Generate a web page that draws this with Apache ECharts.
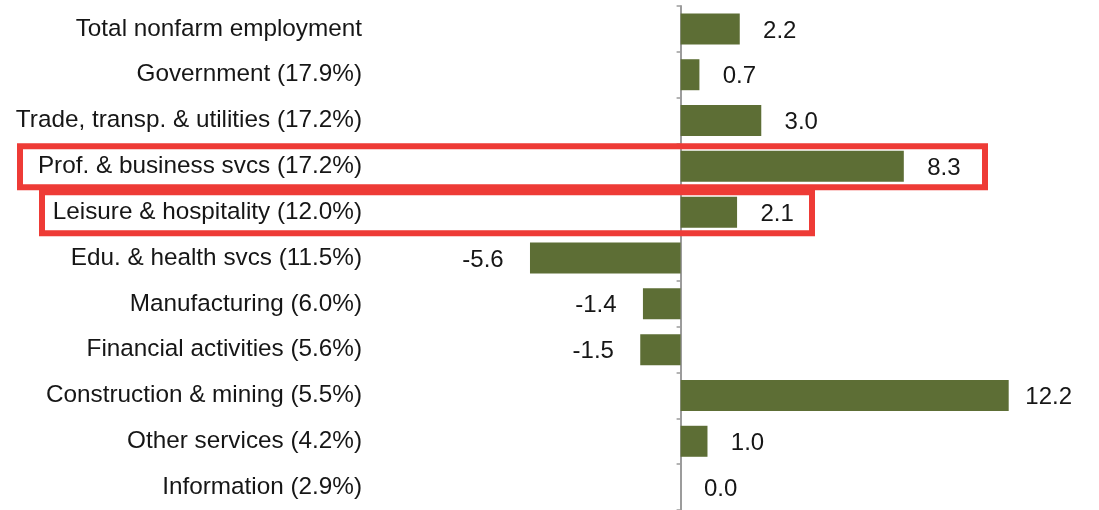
<!DOCTYPE html>
<html>
<head>
<meta charset="utf-8">
<script src="https://cdn.jsdelivr.net/npm/echarts@6/dist/echarts.min.js"></script>
<style>
  html, body { margin: 0; padding: 0; background: #fff; }
  #chart { width: 1099px; height: 510px; }
</style>
</head>
<body>
<div id="chart"></div>
<script>
const categories = [
  'Total nonfarm employment',
  'Government (17.9%)',
  'Trade, transp. & utilities (17.2%)',
  'Prof. & business svcs (17.2%)',
  'Leisure & hospitality (12.0%)',
  'Edu. & health svcs (11.5%)',
  'Manufacturing (6.0%)',
  'Financial activities (5.6%)',
  'Construction & mining (5.5%)',
  'Other services (4.2%)',
  'Information (2.9%)'
];
const values = [2.2, 0.7, 3.0, 8.3, 2.1, -5.6, -1.4, -1.5, 12.2, 1.0, 0.0];
const highlighted = ['Prof. & business svcs (17.2%)', 'Leisure & hospitality (12.0%)'];

const BAR = '#5d6e35';
const INK = '#161616';
const FONT = '"Liberation Sans", Arial, Helvetica, sans-serif';

const chart = echarts.init(document.getElementById('chart'), null, { renderer: 'canvas' });

// labels sit centred a fixed gap beyond the bar end, like the spreadsheet original
const barData = values.map((v) => ({
  value: v,
  label: v < 0
    ? { position: 'left', distance: 47, align: 'center' }
    : { position: 'right', distance: 40, align: 'center' }
}));

chart.setOption({
  animation: false,
  backgroundColor: '#fff',
  textStyle: { fontFamily: FONT },
  grid: { left: 374, right: 15, top: 6, height: 507, containLabel: false },
  xAxis: {
    type: 'value',
    min: -11.4,
    max: 15,
    show: false
  },
  yAxis: [
    {
      type: 'category',
      data: categories,
      inverse: true,
      axisLine: { onZero: true, lineStyle: { color: '#9c9c9c', width: 2 } },
      axisTick: { show: true, length: 4, lineStyle: { color: '#9c9c9c', width: 1.5 } },
      axisLabel: { show: false },
      splitLine: { show: false }
    },
    {
      type: 'category',
      data: categories,
      inverse: true,
      position: 'left',
      axisLine: { show: false, onZero: false },
      axisTick: { show: false },
      axisLabel: {
        show: true,
        margin: 12,
        color: INK,
        fontSize: 24.3,
        fontFamily: FONT,
        padding: [4, 0, 0, 0]
      },
      splitLine: { show: false }
    }
  ],
  series: [
    {
      type: 'bar',
      yAxisIndex: 0,
      data: barData,
      barWidth: 31,
      itemStyle: { color: BAR },
      label: {
        show: true,
        color: INK,
        fontSize: 24,
        fontFamily: FONT,
        offset: [0, 2],
        formatter: (p) => Number(p.value).toFixed(1)
      }
    }
  ]
});

// red highlight boxes around the called-out rows
const boxSpans = { 'Prof. & business svcs (17.2%)': [20, 985], 'Leisure & hospitality (12.0%)': [42, 812] };
chart.setOption({
  graphic: highlighted.map((name) => {
    const cy = chart.convertToPixel({ yAxisIndex: 0 }, name);
    const [x0, x1] = boxSpans[name];
    return {
      type: 'rect',
      shape: { x: x0, y: cy - 20, width: x1 - x0, height: 41 },
      style: { fill: 'none', stroke: '#ee3b36', lineWidth: 6 },
      z: 10
    };
  })
});
</script>
</body>
</html>
